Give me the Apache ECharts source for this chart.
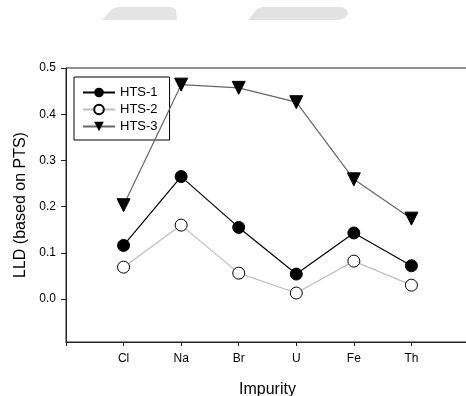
<!DOCTYPE html>
<html><head><meta charset="utf-8">
<script src="https://cdn.jsdelivr.net/npm/echarts@6/dist/echarts.min.js"></script>
<style>html,body{margin:0;padding:0;background:#fff}#c{width:466px;height:396px}</style>
</head><body><div id="c"></div>
<script>
const categories = ['Cl', 'Na', 'Br', 'U', 'Fe', 'Th'];
const hts1 = [0.116, 0.265, 0.155, 0.054, 0.143, 0.072];
const hts2 = [0.069, 0.160, 0.056, 0.013, 0.082, 0.030];
const hts3 = [0.203, 0.464, 0.457, 0.426, 0.259, 0.174];
const yTicks = [0, 0.1, 0.2, 0.3, 0.4, 0.5];

const padCats = [''].concat(categories, ['']);
const pad = a => [null].concat(a, [null]);
const font = 'Liberation Sans, Arial, sans-serif';

const chart = echarts.init(document.getElementById('c'));
chart.setOption({
  animation: false,
  graphic: [
    {type: 'polygon', shape: {points: [[102, 20], [112, 9], [118, 7], [172, 7], [176, 10], [177, 20]]}, style: {fill: '#e4e4e4'}, z: -1},
    {type: 'polygon', shape: {points: [[248, 20], [257, 9], [263, 7], [342, 7], [347, 10], [348, 14], [345, 18], [340, 20]]}, style: {fill: '#e2e2e2'}, z: -1}
  ],
  grid: {left: 66, right: -3, top: 68, bottom: 54, show: true, borderColor: '#222', borderWidth: 1,
    backgroundColor: 'transparent', containLabel: false, outerBoundsMode: 'none'},
  legend: {
    orient: 'vertical', left: 74, top: 77, width: 93,
    borderColor: '#000', borderWidth: 1, padding: [9, 12, 7, 8],
    itemWidth: 32, itemHeight: 12, itemGap: 4,
    textStyle: {fontFamily: font, fontSize: 13, color: '#000'},
    data: ['HTS-1', 'HTS-2', 'HTS-3']
  },
  xAxis: {
    type: 'category', data: padCats, boundaryGap: false,
    name: 'Impurity', nameLocation: 'middle', nameGap: 40,
    nameTextStyle: {fontFamily: font, fontSize: 16, color: '#000'},
    axisLine: {onZero: false, lineStyle: {color: '#222', width: 1}},
    axisTick: {show: true, length: 4, lineStyle: {color: '#222'}, interval: 0},
    axisLabel: {fontFamily: font, fontSize: 12, color: '#000', margin: 11, interval: 0},
    splitLine: {show: false}
  },
  yAxis: {
    type: 'value', min: -0.093, max: 0.5,
    name: 'LLD (based on PTS)', nameLocation: 'middle', nameGap: 36,
    nameTextStyle: {fontFamily: font, fontSize: 16, color: '#000'},
    axisLine: {show: true, onZero: false, lineStyle: {color: '#222', width: 1}},
    axisTick: {show: true, length: 5, lineStyle: {color: '#222'}, customValues: yTicks},
    axisLabel: {fontFamily: font, fontSize: 12, color: '#000', margin: 10, customValues: yTicks,
      formatter: v => v.toFixed(1)},
    splitLine: {show: false}
  },
  series: [
    {name: 'HTS-1', type: 'line', data: pad(hts1), symbol: 'circle', symbolSize: 12,
      lineStyle: {color: '#000', width: 1.2}, itemStyle: {color: '#000', borderColor: '#000'}, z: 3},
    {name: 'HTS-2', type: 'line', data: pad(hts2), symbol: 'circle', symbolSize: 12,
      lineStyle: {color: '#bdbdbd', width: 1.2}, itemStyle: {color: '#fff', borderColor: '#000', borderWidth: 1}, z: 2},
    {name: 'HTS-3', type: 'line', data: pad(hts3), symbol: 'triangle', symbolRotate: 180, symbolSize: 13,
      lineStyle: {color: '#666', width: 1.2}, itemStyle: {color: '#000', borderColor: '#000'}, z: 4}
  ]
});
</script></body></html>
